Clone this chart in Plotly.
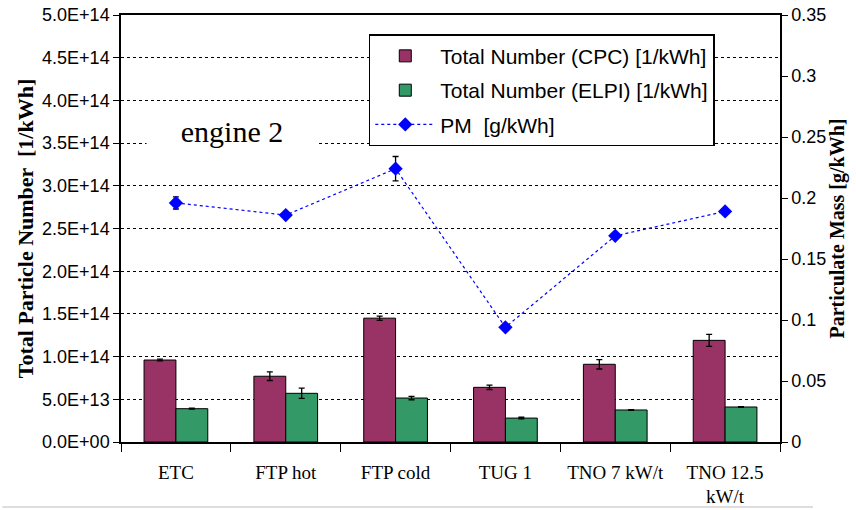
import plotly.graph_objects as go

categories = ["ETC", "FTP hot", "FTP cold", "TUG 1", "TNO 7 kW/t", "TNO 12.5<br>kW/t"]
cpc = [0.96e14, 0.77e14, 1.45e14, 0.64e14, 0.91e14, 1.19e14]
cpc_err = [0.01e14, 0.05e14, 0.025e14, 0.025e14, 0.055e14, 0.07e14]
elpi = [0.39e14, 0.57e14, 0.515e14, 0.28e14, 0.375e14, 0.41e14]
elpi_err = [0.005e14, 0.06e14, 0.02e14, 0.01e14, 0.003e14, 0.004e14]
pm = [0.196, 0.186, 0.224, 0.094, 0.169, 0.189]
pm_err = [0.005, 0.0, 0.01, 0.0, 0.0, 0.0]

left_ticks = [i * 0.5e14 for i in range(11)]
left_ticktext = ["0.0E+00", "5.0E+13", "1.0E+14", "1.5E+14", "2.0E+14", "2.5E+14",
                 "3.0E+14", "3.5E+14", "4.0E+14", "4.5E+14", "5.0E+14"]
right_ticks = [0, 0.05, 0.1, 0.15, 0.2, 0.25, 0.3, 0.35]
right_ticktext = ["0", "0.05", "0.1", "0.15", "0.2", "0.25", "0.3", "0.35"]

ARIAL = "Liberation Sans, Arial, sans-serif"
TIMES = "Liberation Serif, Times New Roman, serif"

fig = go.Figure()
fig.add_trace(go.Bar(
    x=categories, y=cpc, name="Total Number (CPC) [1/kWh]",
    marker=dict(color="#993366", line=dict(color="black", width=1)),
    error_y=dict(type="data", array=cpc_err, color="black", thickness=1.3, width=3),
    legendgroup="a",
))
fig.add_trace(go.Bar(
    x=categories, y=elpi, name="Total Number (ELPI) [1/kWh]",
    marker=dict(color="#339966", line=dict(color="black", width=1)),
    error_y=dict(type="data", array=elpi_err, color="black", thickness=1.3, width=3),
    legendgroup="b",
))
fig.add_trace(go.Scatter(
    x=categories, y=pm, name="PM  [g/kWh]", yaxis="y2",
    mode="lines+markers",
    line=dict(color="#0000FF", width=1.2, dash="dot"),
    marker=dict(symbol="diamond", size=11, color="#0000FF"),
    error_y=dict(type="data", array=pm_err, color="black", thickness=1.3, width=3),
    legendgroup="c",
))

fig.update_layout(
    width=856, height=510,
    margin=dict(l=121, r=76, t=15, b=68, autoexpand=False),
    paper_bgcolor="white", plot_bgcolor="white",
    barmode="group", bargap=0.42, bargroupgap=0,
    showlegend=True,
    legend=dict(
        x=0.376, y=0.955, xanchor="left", yanchor="top",
        bgcolor="white", bordercolor="black", borderwidth=1.5,
        font=dict(family=ARIAL, size=21, color="black"),
        tracegroupgap=4, itemwidth=60,
    ),
    xaxis=dict(
        type="category", tickson="boundaries", ticks="outside", ticklen=8,
        tickcolor="black", tickwidth=1.3, tickangle=0, automargin=False,
        showline=True, linecolor="black", linewidth=1.5, mirror=True,
        showgrid=False, ticklabelstandoff=12,
        tickfont=dict(family=TIMES, size=19, color="black"),
    ),
    yaxis=dict(
        range=[0, 5e14], tickvals=left_ticks, ticktext=left_ticktext,
        ticks="outside", ticklen=6, tickcolor="black", tickwidth=1.3,
        showline=True, linecolor="black", linewidth=1.5, automargin=False,
        showgrid=True, gridcolor="black", gridwidth=1, griddash="dot",
        zeroline=False,
        tickfont=dict(family=ARIAL, size=18, color="black"),
        title=dict(text="Total Particle Number  [1/kWh]",
                   font=dict(family=TIMES, size=22, color="black", weight="bold"),
                   standoff=2),
    ),
    yaxis2=dict(
        overlaying="y", side="right", range=[0, 0.35],
        tickvals=right_ticks, ticktext=right_ticktext,
        ticks="outside", ticklen=6, tickcolor="black", tickwidth=1.3,
        showline=True, linecolor="black", linewidth=1.5, automargin=False,
        showgrid=False, zeroline=False,
        tickfont=dict(family=ARIAL, size=18, color="black"),
        title=dict(text="Particulate Mass [g/kWh]",
                   font=dict(family=TIMES, size=20, color="black", weight="bold"),
                   standoff=2),
    ),
    annotations=[dict(
        text="engine 2", x=0.168, y=0.726, xref="paper", yref="paper",
        xanchor="center", yanchor="middle",
        showarrow=False, bgcolor="white", borderpad=5, width=160,
        font=dict(family=TIMES, size=30, color="black"),
    )],
    shapes=[dict(type="line", xref="paper", yref="paper",
                 x0=-0.18, x1=1.05, y0=-0.152, y1=-0.152,
                 line=dict(color="#DDDDDD", width=2), layer="below")],
)

fig.write_html("out.html")
